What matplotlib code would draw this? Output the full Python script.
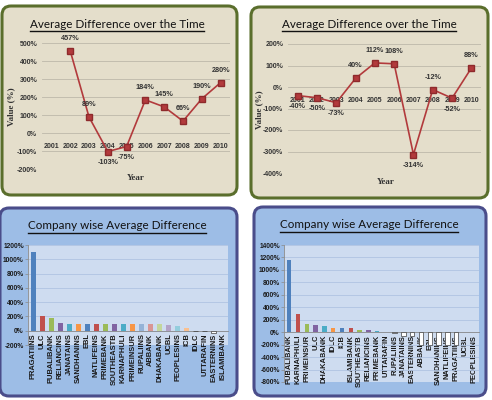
import numpy as np
import matplotlib
matplotlib.use("Agg")
import matplotlib.pyplot as plt
from matplotlib.patches import FancyBboxPatch
from matplotlib.lines import Line2D
from matplotlib.ticker import FuncFormatter, MultipleLocator

plt.rcParams['font.family'] = ['Lato', 'DejaVu Sans']
NARROW = ['Liberation Sans Narrow', 'Liberation Sans']
REGULAR = ['Liberation Sans', 'DejaVu Sans']

# data
years = ['2001', '2002', '2003', '2004', '2005', '2006', '2007', '2008', '2009', '2010']
avg_diff_left = [np.nan, 457, 89, -103, -75, 184, 145, 66, 190, 280]
avg_diff_right = [-40, -50, -73, 40, 112, 108, -314, -12, -52, 88]

companies_left = ['PRAGATIINS', 'ULC', 'PUBALIBANK', 'RELIANCINS', 'JANATAINS', 'SANDHANINS',
                  'EBL', 'NATLIFEINS', 'PRIMEBANK', 'SOUTHEASTB', 'KARNAPHULI', 'PRIMEINSUR',
                  'RUPALIINS', 'ABBANK', 'DHAKABANK', 'UCBL', 'PEOPLESINS', 'ICB', 'IDLC',
                  'UTTARAFIN', 'EASTERNINS', 'ISLAMIBANK']
company_diff_left = [1105, 212, 175, 115, 100, 100, 100, 90, 90, 90, 90, 90,
                     90, 90, 90, 85, 70, 45, -5, -5, -25, 0]

companies_right = ['PUBALIBANK', 'KARNAPHULI', 'PRIMEINSUR', 'ULC', 'DHAKABANK', 'IDLC', 'ICB',
                   'ISLAMIBANK', 'SOUTHEASTB', 'RELIANCINS', 'PRIMEBANK', 'UTTARAFIN', 'RUPALIINS',
                   'JANATAINS', 'EASTERNINS', 'ABBANK', 'EBL', 'SANDHANINS', 'NATLIFEINS',
                   'PRAGATIINS', 'UCBL', 'PEOPLESINS']
company_diff_right = [1160, 290, 125, 115, 95, 70, 70, 60, 30, 30, 20, 5, -15,
                      -60, -60, -200, -200, -200, -200, -200, 0, 0]

W, H = 492, 400
fig = plt.figure(figsize=(W / 100, H / 100), dpi=100)
fig.patch.set_facecolor('white')

pct = FuncFormatter(lambda v, p: f'{v:.0f}%')


def px_axes(x0, y0, x1, y1):
    # pixel box (top-left origin) -> axes
    return fig.add_axes([x0 / W, 1 - y1 / H, (x1 - x0) / W, (y1 - y0) / H])


def panel(x0, y0, x1, y1, face, edge):
    p = FancyBboxPatch((x0 / 100, (H - y1) / 100), (x1 - x0) / 100, (y1 - y0) / 100,
                       boxstyle='round,pad=0,rounding_size=0.09',
                       transform=fig.dpi_scale_trans, facecolor=face, edgecolor=edge,
                       linewidth=2.2, zorder=-5)
    fig.patches.append(p)


def title(text, xc, yc):
    t = fig.text(xc / W, 1 - yc / H, text, ha='center', va='center',
                 fontsize=8.4, color='#111111')
    r = fig.canvas.get_renderer()
    bb = t.get_window_extent(r)
    yl = bb.y0 / H - 0.004
    fig.lines.append(Line2D([bb.x0 / W, bb.x1 / W], [yl, yl], transform=fig.transFigure,
                            color='#111111', linewidth=1.0))


def style_ticks(labels, family, color):
    for lab in labels:
        lab.set_fontweight('bold')
        lab.set_family(family)
        lab.set_color(color)


# ---------------- top panels: line charts ----------------
beige = '#e4decb'
olive = '#5a6e2c'
line_red = '#b23a3c'

panel(2, 6, 237, 195, beige, olive)
panel(251, 7, 488, 198, beige, olive)


def line_chart(ax, vals, lim, step, below):
    x = np.arange(len(years))
    ax.set_facecolor('none')
    ax.spines['bottom'].set_position(('data', 0))
    for s in ax.spines.values():
        s.set_visible(False)
    ax.plot(x, vals, color=line_red, linewidth=1.2, marker='s', markersize=4.5,
            markerfacecolor=line_red, markeredgecolor='#8e2a2c', zorder=3)
    for i, v in enumerate(vals):
        if np.isnan(v):
            continue
        off = -8 if below[i] else 9
        ax.annotate(f'{v:.0f}%', (i, v), xytext=(0, off), textcoords='offset points',
                    ha='center', va='center', fontsize=5.2, fontweight='bold',
                    family=NARROW, color='#333333')
    ax.set_xlim(-0.5, len(years) - 0.5)
    ax.set_ylim(*lim)
    ax.yaxis.set_major_locator(MultipleLocator(step))
    ax.yaxis.set_major_formatter(pct)
    ax.set_xticks(x)
    ax.set_xticklabels(years)
    ax.tick_params(length=0, labelsize=5.0)
    ax.tick_params(axis='x', pad=7)
    ax.tick_params(axis='y', pad=3.5)
    style_ticks(ax.get_xticklabels() + ax.get_yticklabels(), NARROW, '#333333')
    ax.grid(axis='y', color='#bdb8aa', linewidth=0.6)
    ax.set_axisbelow(True)


ax1 = px_axes(42, 43, 230, 169)
line_chart(ax1, avg_diff_left, (-200, 500), 100,
           [False, False, False, True, True, False, False, False, False, False])
ax2 = px_axes(288, 44, 481, 173)
line_chart(ax2, avg_diff_right, (-400, 200), 100,
           [True, True, True, False, False, False, True, False, True, False])

title('Average Difference over the Time', 117, 24)
title('Average Difference over the Time', 369, 24)
for xc, yc, xl, yl in [(136, 178, 11, 107), (386, 182, 259, 110)]:
    fig.text(xc / W, 1 - yc / H, 'Year', ha='center', va='center', fontsize=6.5,
             family='Liberation Serif', fontweight='bold', color='#333333')
    fig.text(xl / W, 1 - yl / H, 'Value (%)', ha='center', va='center', fontsize=6.5,
             family='Liberation Serif', fontweight='bold', color='#333333', rotation=90)

# ---------------- bottom panels: bar charts ----------------
panel(0, 208, 237, 396, '#9dbde6', '#4a4d8a')
panel(254, 207, 486, 396, '#9dbde6', '#4a4d8a')

base = ['#4f81bd', '#c0504d', '#9bbb59', '#8064a2', '#4bacc6', '#f79646']
light = ['#95b3d7', '#d99694', '#c3d69b', '#b3a2c7', '#93cddd', '#fac090']


def bar_chart(ax, names, vals, lim, step, colors):
    x = np.arange(len(names))
    ax.set_facecolor('#cedcf0')
    ax.spines['bottom'].set_position(('data', 0))
    for k in ['top', 'right']:
        ax.spines[k].set_visible(False)
    for k in ['left', 'bottom']:
        ax.spines[k].set_color('#8a8a8a')
        ax.spines[k].set_linewidth(0.6)
    fc = [c if v >= 0 else 'white' for c, v in zip(colors, vals)]
    ec = ['none' if v >= 0 else '#404040' for v in vals]
    ax.bar(x, vals, width=0.5, color=fc, edgecolor=ec, linewidth=0.5, zorder=3)
    ax.set_xlim(-0.6, len(names) - 0.4)
    ax.set_ylim(*lim)
    ax.yaxis.set_major_locator(MultipleLocator(step))
    ax.yaxis.set_major_formatter(pct)
    ax.set_xticks(x)
    ax.set_xticklabels(names, rotation=90, va='top')
    ax.tick_params(axis='y', length=2, width=0.5, color='#8a8a8a', labelsize=4.8, pad=1)
    ax.tick_params(axis='x', length=0, labelsize=5.4, pad=2)
    style_ticks(ax.get_xticklabels() + ax.get_yticklabels(), REGULAR, '#1a1a1a')
    ax.grid(axis='y', color='#b0c4e2', linewidth=0.6)
    ax.set_axisbelow(True)


cols_left = base + base + light + ['#4f81bd', '#c0504d', '#9bbb59', '#8064a2']
cols_right = base + base + light + ['#4f81bd', '#c0504d', '#9bbb59', '#8064a2']

ax3 = px_axes(28, 245, 228, 345)
bar_chart(ax3, companies_left, company_diff_left, (-200, 1200), 200, cols_left)
ax4 = px_axes(284, 245, 479, 382)
bar_chart(ax4, companies_right, company_diff_right, (-800, 1400), 200, cols_right)

title('Company wise Average Difference', 117, 226)
title('Company wise Average Difference', 369, 225)

fig.savefig('out.png', dpi=100)
